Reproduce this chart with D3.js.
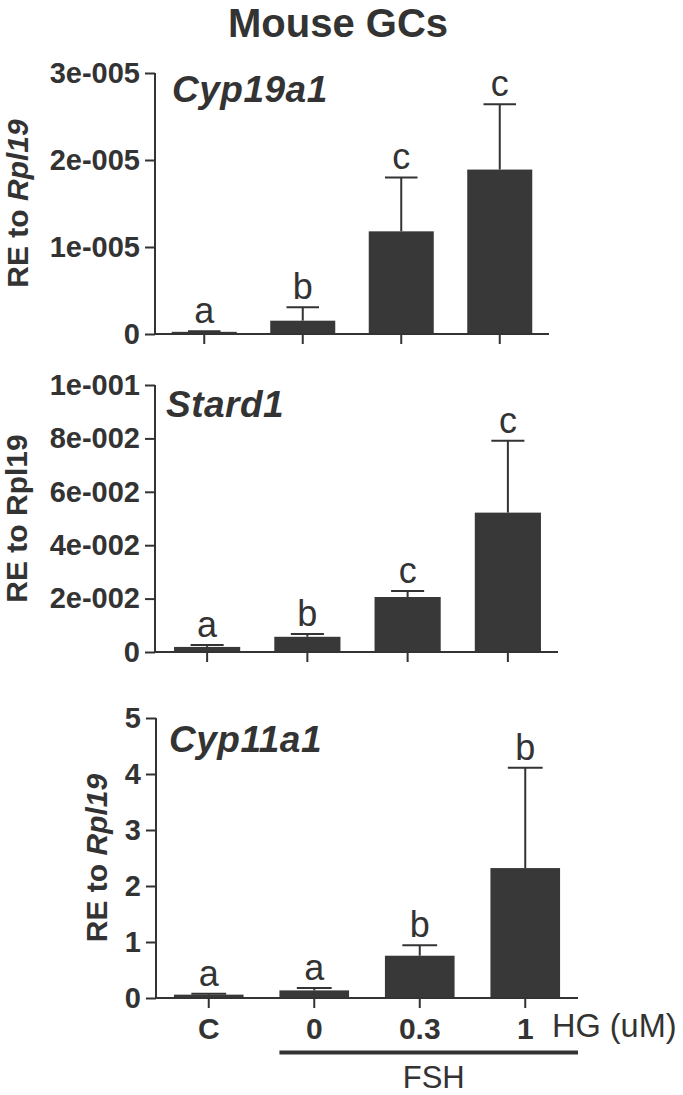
<!DOCTYPE html>
<html>
<head>
<meta charset="utf-8">
<script src="https://cdn.jsdelivr.net/npm/d3@7"></script>
<style>
  html, body { margin: 0; padding: 0; background: #ffffff; }
  svg { display: block; font-family: "Liberation Sans", Arial, sans-serif; }
</style>
</head>
<body>
<svg id="chart" width="683" height="1095"></svg>
<script>
// ---------- data ----------
const groups = ["C", "0", "0.3", "1"];

const cyp19Mean = [2.5e-7, 1.53e-6, 1.18e-5, 1.89e-5];
const cyp19Err  = [0.8e-7, 1.54e-6, 0.62e-5, 0.75e-5];
const cyp19Sig  = ["a", "b", "c", "c"];
const cyp19Ticks = [0, 1e-5, 2e-5, 3e-5];
const cyp19TickLabels = ["0", "1e-005", "2e-005", "3e-005"];

const stard1Mean = [0.0019, 0.0057, 0.0206, 0.0522];
const stard1Err  = [0.0007, 0.0010, 0.0022, 0.0269];
const stard1Sig  = ["a", "b", "c", "c"];
const stard1Ticks = [0, 0.02, 0.04, 0.06, 0.08, 0.1];
const stard1TickLabels = ["0", "2e-002", "4e-002", "6e-002", "8e-002", "1e-001"];

const cyp11Mean = [0.06, 0.136, 0.755, 2.32];
const cyp11Err  = [0.017, 0.042, 0.185, 1.79];
const cyp11Sig  = ["a", "a", "b", "b"];
const cyp11Ticks = [0, 1, 2, 3, 4, 5];
const cyp11TickLabels = ["0", "1", "2", "3", "4", "5"];

// ---------- drawing ----------
const ink = "#333333";
const barFill = "#383838";
const svg = d3.select("#chart");

svg.append("text")
  .attr("x", 338).attr("y", 36.5)
  .attr("text-anchor", "middle")
  .attr("font-size", 40).attr("font-weight", "bold")
  .attr("fill", ink)
  .text("Mouse GCs");

const panels = [
  { gene: "Cyp19a1", mean: cyp19Mean, err: cyp19Err, sig: cyp19Sig,
    ticks: cyp19Ticks, tickLabels: cyp19TickLabels, max: 3e-5,
    y0: 334, y1: 73, x0: 155, x1: 549, axisX: 155,
    geneX: 172, geneY: 102, titleX: 28, italicRpl: true },
  { gene: "Stard1", mean: stard1Mean, err: stard1Err, sig: stard1Sig,
    ticks: stard1Ticks, tickLabels: stard1TickLabels, max: 0.1,
    y0: 652, y1: 385, x0: 157, x1: 558, axisX: 155,
    geneX: 166, geneY: 417, titleX: 27, italicRpl: false },
  { gene: "Cyp11a1", mean: cyp11Mean, err: cyp11Err, sig: cyp11Sig,
    ticks: cyp11Ticks, tickLabels: cyp11TickLabels, max: 5,
    y0: 998, y1: 718, x0: 156, x1: 578, axisX: 156,
    geneX: 169, geneY: 752, titleX: 107, italicRpl: true }
];

panels.forEach((p, pi) => {
  const g = svg.append("g");
  const y = d3.scaleLinear().domain([0, p.max]).range([p.y0, p.y1]);
  const x = d3.scaleBand().domain(groups).range([p.x0, p.x1])
    .paddingInner(0.34).paddingOuter(0.17);

  // bars
  g.selectAll("rect.bar").data(groups).enter().append("rect")
    .attr("x", d => x(d))
    .attr("width", x.bandwidth())
    .attr("y", (d, i) => y(p.mean[i]))
    .attr("height", (d, i) => p.y0 - y(p.mean[i]))
    .attr("fill", barFill);

  // error bars
  const capW = x.bandwidth() * 0.5;
  groups.forEach((d, i) => {
    const cx = x(d) + x.bandwidth() / 2;
    const top = y(p.mean[i] + p.err[i]);
    g.append("line").attr("x1", cx).attr("x2", cx)
      .attr("y1", y(p.mean[i])).attr("y2", top)
      .attr("stroke", ink).attr("stroke-width", 2);
    g.append("line").attr("x1", cx - capW / 2).attr("x2", cx + capW / 2)
      .attr("y1", top).attr("y2", top)
      .attr("stroke", ink).attr("stroke-width", 2);
    g.append("text").attr("x", cx).attr("y", top - 8)
      .attr("text-anchor", "middle")
      .attr("font-size", 36).attr("fill", ink)
      .text(p.sig[i]);
  });

  // y axis
  const yAxis = d3.axisLeft(y).tickValues(p.ticks)
    .tickFormat((d, i) => p.tickLabels[i]).tickSize(10).tickPadding(5);
  const ya = g.append("g").attr("transform", `translate(${p.axisX},0)`).call(yAxis);
  ya.select(".domain").attr("stroke", ink).attr("stroke-width", 2)
    .attr("d", `M0,${p.y0}V${p.y1}`);
  ya.selectAll(".tick line").attr("stroke", ink).attr("stroke-width", 2);
  ya.selectAll(".tick text").attr("fill", ink)
    .attr("font-size", 29).attr("font-weight", "bold")
    .attr("font-family", "'Liberation Sans', Arial, sans-serif");

  // x axis
  const xAxis = d3.axisBottom(x).tickSize(10).tickFormat(pi === 2 ? (d => d) : (() => ""))
    .tickPadding(10);
  const xa = g.append("g").attr("transform", `translate(0,${p.y0})`).call(xAxis);
  xa.select(".domain").attr("stroke", ink).attr("stroke-width", 2)
    .attr("d", `M${p.axisX},0H${p.x1}`);
  xa.selectAll(".tick line").attr("stroke", ink).attr("stroke-width", 2);
  xa.selectAll(".tick text").attr("fill", ink)
    .attr("font-size", 30).attr("font-weight", "bold")
    .attr("font-family", "'Liberation Sans', Arial, sans-serif");

  // gene label
  g.append("text").attr("x", p.geneX).attr("y", p.geneY)
    .attr("font-size", 37).attr("font-weight", "bold").attr("font-style", "italic")
    .attr("letter-spacing", 0.5)
    .attr("fill", ink).text(p.gene);

  // y title
  const cy = (p.y0 + p.y1) / 2;
  const t = g.append("text")
    .attr("transform", `translate(${p.titleX},${cy}) rotate(-90)`)
    .attr("text-anchor", "middle")
    .attr("font-size", 30).attr("font-weight", "bold").attr("fill", ink);
  t.append("tspan").text("RE to ");
  t.append("tspan").attr("font-style", p.italicRpl ? "italic" : "normal").text("Rpl19");

  if (pi === 2) {
    // HG label, FSH bar and label
    g.append("text").attr("x", 552).attr("y", 1037)
      .attr("font-size", 32.5).attr("fill", ink).text("HG (uM)");
    const x0 = x("0");
    g.append("line").attr("x1", x0).attr("x2", p.x1)
      .attr("y1", 1052.5).attr("y2", 1052.5)
      .attr("stroke", ink).attr("stroke-width", 4);
    g.append("text").attr("x", (x0 + p.x1) / 2 + 5).attr("y", 1088)
      .attr("text-anchor", "middle")
      .attr("font-size", 31).attr("fill", ink).text("FSH");
  }
});
</script>
</body>
</html>
